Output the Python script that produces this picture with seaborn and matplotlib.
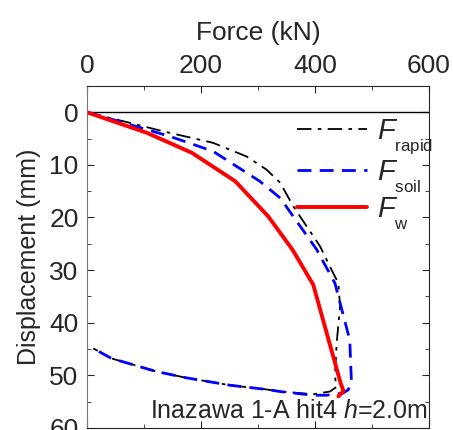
import numpy as np
import matplotlib
matplotlib.use("Agg")
import matplotlib.pyplot as plt
import matplotlib._mathtext as mathtext_internal
import seaborn as sns
from matplotlib.ticker import MultipleLocator

# Curvas força-deslocamento (kN, mm)
f_rapid = [0, 75, 133, 221, 280, 315, 339, 362, 409, 426, 441, 444, 438, 435, 438, 426, 397,
           339, 315, 251, 175, 122, 43, 11]
d_rapid = [0, 2.0, 3.6, 5.8, 8.4, 10.9, 13.4, 17.9, 25.5, 29.3, 32.5, 36.9, 43.9, 50.3, 52.2, 53.1, 53.6,
           53.1, 52.7, 51.9, 50.5, 49.3, 46.8, 44.9]

f_soil = [0, 46, 146, 221, 303, 339, 403, 435, 461, 464, 458, 449, 420, 397,
          339, 315, 251, 175, 122, 43, 11]
d_soil = [0, 1.4, 4.6, 7.4, 13.1, 16.3, 26.1, 32.5, 43.3, 51.5, 52.8, 53.4, 53.8, 53.8,
          53.1, 52.7, 51.9, 50.5, 49.3, 46.8, 44.9]

f_w = [0, 105, 184, 260, 318, 361, 397, 445, 450, 441]
d_w = [0, 3.9, 7.7, 13.1, 19.8, 26.2, 32.8, 51.5, 53.0, 54.0]

sns.set_style("ticks")
plt.rcParams['font.family'] = ['Liberation Sans', 'DejaVu Sans']
plt.rcParams['mathtext.fontset'] = 'custom'
plt.rcParams['mathtext.it'] = 'Liberation Sans:italic'
plt.rcParams['mathtext.rm'] = 'Liberation Sans'
# subscritos menores e mais baixos, como na figura original
mathtext_internal.SHRINK_FACTOR = 0.58
mathtext_internal.FontConstantsBase.sub1 = 0.75
mathtext_internal.FontConstantsBase.subdrop = 0.6

fig = plt.figure(figsize=(4.53, 4.30), dpi=100)
ax = fig.add_axes([0.192, 0.005, 0.755, 0.795])

ax.axhline(0, color='black', linewidth=1.0)

# estimator=None para manter a ordem dos pontos (curva de carga e descarga)
sns.lineplot(x=f_rapid, y=d_rapid, sort=False, estimator=None, ax=ax, color='black',
             linewidth=1.3, linestyle=(0, (8, 3.5, 2, 3.5)), label=r'$F_{\rm rapid}$')
sns.lineplot(x=f_soil, y=d_soil, sort=False, estimator=None, ax=ax, color='blue',
             linewidth=2.0, linestyle=(0, (5, 3)), label=r'$F_{\rm soil}$')
sns.lineplot(x=f_w, y=d_w, sort=False, estimator=None, ax=ax, color='red',
             linewidth=2.8, label=r'$F_{\rm w}$')

ax.set_xlim(0, 600)
ax.set_ylim(60, -5)
ax.xaxis.set_major_locator(MultipleLocator(200))
ax.xaxis.set_minor_locator(MultipleLocator(100))
ax.yaxis.set_major_locator(MultipleLocator(10))
ax.yaxis.set_minor_locator(MultipleLocator(5))
ax.tick_params(which='both', direction='in', top=True, bottom=True, left=True, right=True,
               labeltop=True, labelbottom=False, labelsize=19, pad=6)
ax.tick_params(which='major', length=5)
ax.tick_params(which='minor', length=3)
ax.xaxis.set_label_position('top')
ax.set_xlabel('Force (kN)', fontsize=19, labelpad=10)
ax.set_ylabel('Displacement (mm)', fontsize=18, labelpad=6)
ax.spines['left'].set_color('#777777')

ax.text(0.997, 0.015, r'Inazawa 1-A hit4 $h$=2.0m', transform=ax.transAxes,
        ha='right', va='bottom', fontsize=18)

ax.legend(loc='upper right', bbox_to_anchor=(1.09, 0.985), frameon=False, fontsize=21,
          handlelength=2.4, labelspacing=0.05, handletextpad=0.35)

fig.savefig('out.png', dpi=100)
